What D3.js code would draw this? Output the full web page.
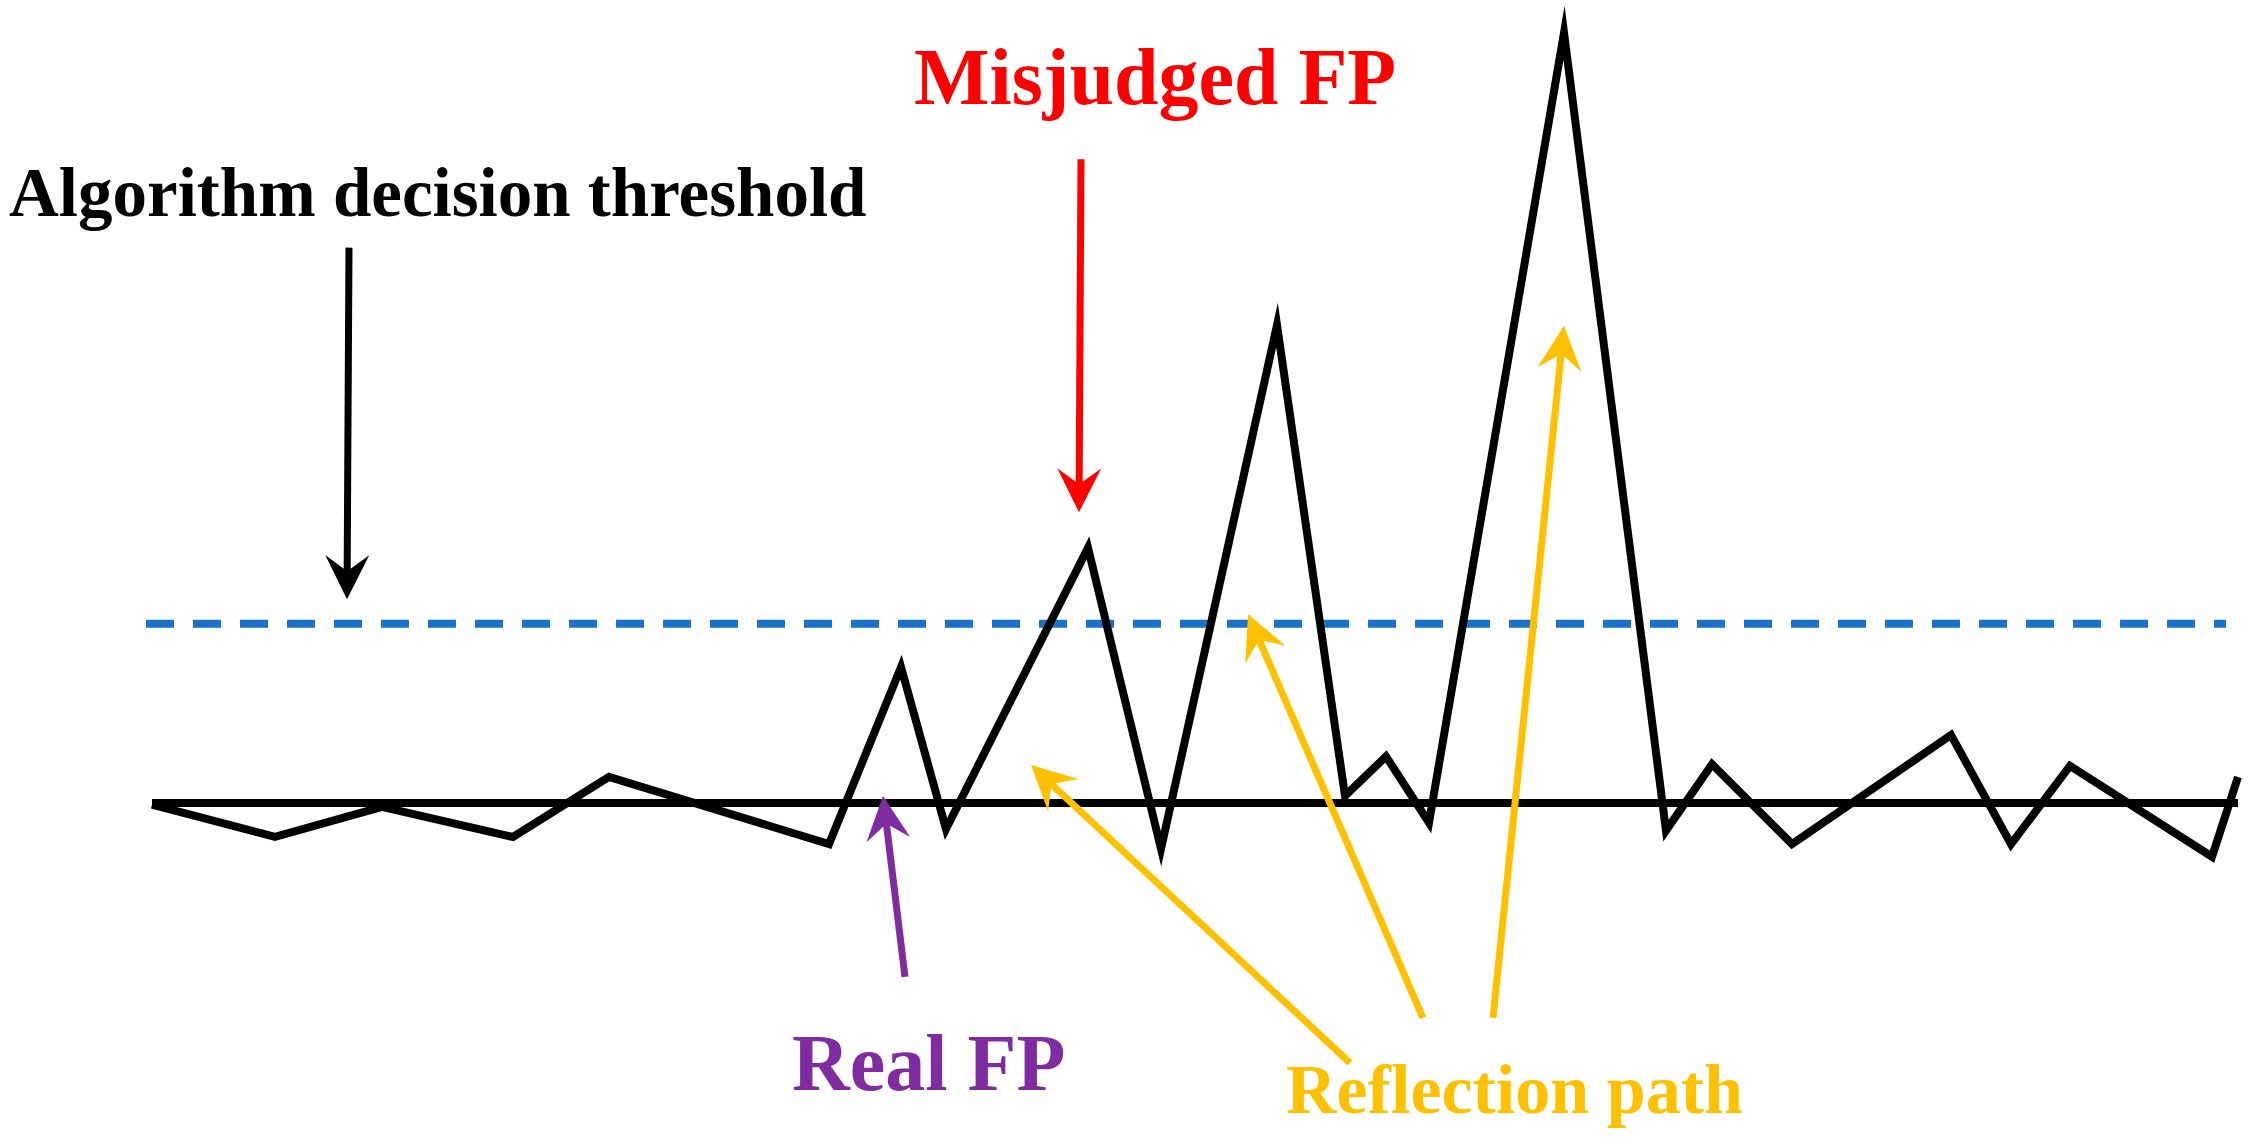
<!DOCTYPE html>
<meta charset="utf-8">

<style>
	body { margin:0; background:#fff; }
	svg { display:block; }
	text { font-family:"Liberation Serif","Times New Roman",serif; font-weight:bold; }
</style>

<script src="https://d3js.org/d3.v7.min.js"></script>

<body>
	<div id="canvasDiv"></div>

	<script>
		var width = 2254;
		var height = 1140;

		// received signal: sample time and amplitude
		var sampleTime = [0, 123, 230, 361, 457, 677, 749, 794, 936, 1009, 1125, 1193,
			1234, 1277, 1412, 1514, 1560, 1640, 1799, 1859, 1918, 2060, 2086];
		var sampleAmp = [-0.2, -4.3, -0.5, -4.3, 3.3, -5.2, 17.2, -3.3, 32.3, -5.8, 60.5, 0.9,
			5.9, -2.5, 97.5, -3.5, 4.9, -5.2, 8.6, -5.2, 4.7, -6.8, 3.3];

		// decision threshold level and the time span it is drawn over
		var threshold = 22.7;
		var thresholdSpan = [-6, 2074];

		// labels, anchored in (time, amplitude)
		var labelText = ["Algorithm decision threshold", "Misjudged FP", "Real FP", "Reflection path"];
		var labelTime = [-143, 762, 640, 1134];
		var labelAmp = [74.3, 88.5, -36.3, -39.2];

		// arrows: which label they belong to, start and end in (time, amplitude)
		var arrowLabel = [0, 1, 2, 3, 3, 3];
		var arrowFromTime = [197, 929, 753, 1198, 1271, 1341];
		var arrowFromAmp = [70.3, 81.5, -22.0, -32.9, -27.2, -27.2];
		var arrowToTime = [195, 927, 731, 879, 1096, 1412];
		var arrowToAmp = [25.8, 36.8, 0.9, 4.8, 23.9, 60.4];

		var colors = ["#000000", "#ff0000", "#7f2ca0", "#ffc000"];
		var fontSizes = [69, 80, 80, 70];

		var x = d3.scaleLinear().domain([0, 2086]).range([152, 2238]);
		var y = d3.scaleLinear().domain([0, 100]).range([803, 13]);

		var svg = d3.select("#canvasDiv").append("svg")
			.attr("width", width)
			.attr("height", height);

		svg.append("rect").attr("width", width).attr("height", height).attr("fill", "#fff");

		// arrow heads, one per colour
		var defs = svg.append("defs");
		colors.forEach(function(c, i) {
			defs.append("marker")
				.attr("id", "head" + i)
				.attr("markerUnits", "userSpaceOnUse")
				.attr("viewBox", "-50 -30 60 60")
				.attr("markerWidth", 60)
				.attr("markerHeight", 60)
				.attr("refX", 0)
				.attr("refY", 0)
				.attr("orient", "auto")
				.append("path")
				.attr("d", "M0,0L-44,-22L-28,0L-44,22Z")
				.attr("fill", c);
		});

		// threshold (dashed)
		svg.append("line")
			.attr("x1", x(thresholdSpan[0]))
			.attr("x2", x(thresholdSpan[1]))
			.attr("y1", y(threshold))
			.attr("y2", y(threshold))
			.attr("stroke", "#1a73c8")
			.attr("stroke-width", 8)
			.attr("stroke-dasharray", "28,19");

		// zero line
		svg.append("line")
			.attr("x1", x(sampleTime[0]))
			.attr("x2", x(sampleTime[sampleTime.length - 1]))
			.attr("y1", y(0))
			.attr("y2", y(0))
			.attr("stroke", "#000")
			.attr("stroke-width", 8);

		// signal
		var line = d3.line()
			.x(function(d) { return x(d[0]); })
			.y(function(d) { return y(d[1]); });
		svg.append("path")
			.datum(d3.zip(sampleTime, sampleAmp))
			.attr("d", line)
			.attr("fill", "none")
			.attr("stroke", "#000")
			.attr("stroke-width", 8)
			.attr("stroke-linejoin", "miter")
			.attr("stroke-miterlimit", 10);

		// arrows: shaft stops at the notch of the head
		arrowLabel.forEach(function(li, i) {
			var x1 = x(arrowFromTime[i]), y1 = y(arrowFromAmp[i]);
			var x2 = x(arrowToTime[i]), y2 = y(arrowToAmp[i]);
			var len = Math.hypot(x2 - x1, y2 - y1);
			var k = (len - 28) / len;
			svg.append("line")
				.attr("x1", x1).attr("y1", y1)
				.attr("x2", x1 + (x2 - x1) * k)
				.attr("y2", y1 + (y2 - y1) * k)
				.attr("stroke", colors[li])
				.attr("stroke-width", 7);
			svg.append("path")
				.attr("d", "M" + x1 + "," + y1 + "L" + x2 + "," + y2)
				.attr("stroke", "none")
				.attr("fill", "none")
				.attr("marker-end", "url(#head" + li + ")");
		});

		// labels
		labelText.forEach(function(t, i) {
			svg.append("text")
				.attr("x", x(labelTime[i]))
				.attr("y", y(labelAmp[i]))
				.attr("fill", colors[i])
				.attr("font-size", fontSizes[i])
				.text(t);
		});
	</script>
</body>
